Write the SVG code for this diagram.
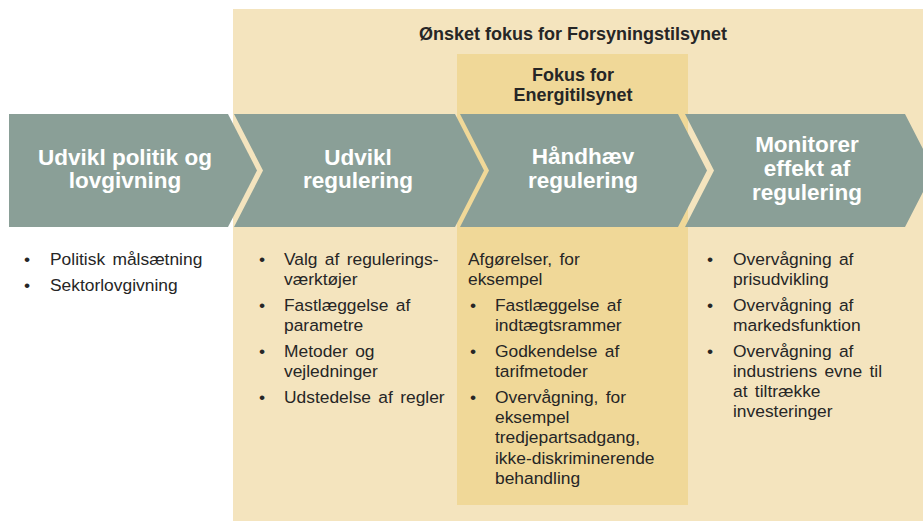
<svg xmlns="http://www.w3.org/2000/svg" width="923" height="521" viewBox="0 0 923 521">
<style>
.bg{fill:#F4E4BE}
.bg2{fill:#F0D898}
.chev{fill:#8A9F97}
.ct{font-family:"Liberation Sans",Arial,sans-serif;font-weight:bold;font-size:22.5px;fill:#FFFFFF;text-anchor:middle}
.hd{font-family:"Liberation Sans",Arial,sans-serif;font-weight:bold;font-size:18px;fill:#262626;text-anchor:middle}
.bt{font-family:"Liberation Sans",Arial,sans-serif;font-size:17.4px;fill:#262626;word-spacing:2.5px}
</style>
<rect width="923" height="521" fill="#FFFFFF"/>
<g id="zone-forsyningstilsynet">
<rect class="bg" x="233" y="9" width="690" height="512"/>
<text class="hd" x="573" y="40">Ønsket fokus for Forsyningstilsynet</text>
</g>
<g id="zone-energitilsynet">
<rect class="bg2" x="457" y="54" width="231" height="451"/>
<text class="hd" x="573" y="81">Fokus for</text>
<text class="hd" x="573" y="101">Energitilsynet</text>
</g>
<g id="step1">
<polygon class="chev" points="9,114 228,114 257,170.5 228,227 9,227"/>
<text class="ct" x="125" y="165">Udvikl politik og</text>
<text class="ct" x="125" y="188">lovgivning</text>
</g>
<g id="step2">
<polygon class="chev" points="234,114 455,114 484,170.5 455,227 234,227 263,170.5"/>
<text class="ct" x="358" y="165">Udvikl</text>
<text class="ct" x="358" y="188">regulering</text>
</g>
<g id="step3">
<polygon class="chev" points="460,114 678,114 707,170.5 678,227 460,227 489,170.5"/>
<text class="ct" x="583" y="164">Håndhæv</text>
<text class="ct" x="583" y="188">regulering</text>
</g>
<g id="step4">
<polygon class="chev" points="685,114 905,114 934,170.5 905,227 685,227 714,170.5"/>
<text class="ct" x="807" y="152">Monitorer</text>
<text class="ct" x="807" y="176">effekt af</text>
<text class="ct" x="807" y="200">regulering</text>
</g>
<g id="connectors"></g>
<g id="list1" class="bt">
<text x="24" y="265">•</text><text x="50" y="265">Politisk målsætning</text>
<text x="24" y="291">•</text><text x="50" y="291">Sektorlovgivning</text>
</g>
<g id="list2" class="bt">
<text x="259" y="265">•</text><text x="284" y="265">Valg af regulerings-</text>
<text x="284" y="285">værktøjer</text>
<text x="259" y="311">•</text><text x="284" y="311">Fastlæggelse af</text>
<text x="284" y="331">parametre</text>
<text x="259" y="357">•</text><text x="284" y="357">Metoder og</text>
<text x="284" y="377">vejledninger</text>
<text x="259" y="403">•</text><text x="284" y="403">Udstedelse af regler</text>
</g>
<g id="list3" class="bt">
<text x="468" y="265">Afgørelser, for</text>
<text x="468" y="285">eksempel</text>
<text x="470" y="311">•</text><text x="495" y="311">Fastlæggelse af</text>
<text x="495" y="331">indtægtsrammer</text>
<text x="470" y="357">•</text><text x="495" y="357">Godkendelse af</text>
<text x="495" y="377">tarifmetoder</text>
<text x="470" y="403">•</text><text x="495" y="403">Overvågning, for</text>
<text x="495" y="423">eksempel</text>
<text x="495" y="443">tredjepartsadgang,</text>
<text x="495" y="464">ikke-diskriminerende</text>
<text x="495" y="484">behandling</text>
</g>
<g id="list4" class="bt">
<text x="707" y="265">•</text><text x="733" y="265">Overvågning af</text>
<text x="733" y="285">prisudvikling</text>
<text x="707" y="311">•</text><text x="733" y="311">Overvågning af</text>
<text x="733" y="331">markedsfunktion</text>
<text x="707" y="357">•</text><text x="733" y="357">Overvågning af</text>
<text x="733" y="377">industriens evne til</text>
<text x="733" y="397">at tiltrække</text>
<text x="733" y="417">investeringer</text>
</g>
</svg>
